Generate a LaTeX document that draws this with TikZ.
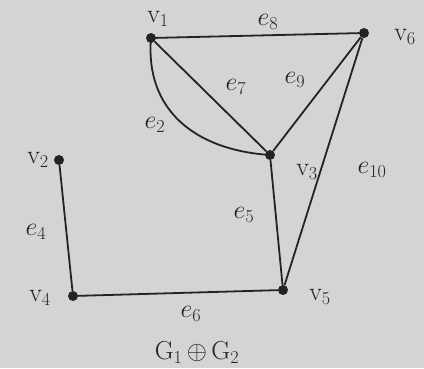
\RequirePackage{fix-cm}
\documentclass[tikz,border=0pt]{standalone}
\usepackage{fontspec}
\usepackage{amssymb}
\begin{document}
\begin{tikzpicture}[x=1pt,y=-1pt,
  vtx/.style={circle,fill=ink,inner sep=0pt,minimum size=10pt},
  edge/.style={draw=ink,line width=1.8pt},
  lbl/.style={text=ink,font=\fontsize{26}{30}\selectfont,inner sep=0pt}]
\definecolor{ink}{RGB}{35,35,35}
\definecolor{paper}{RGB}{212,212,210}
\fill[paper] (0,0) rectangle (424,368);
\useasboundingbox (0,0) rectangle (424,368);
\node[vtx] (v1) at (151,38) {};
\node[vtx] (v6) at (364,33) {};
\node[vtx] (v3) at (270,155) {};
\node[vtx] (v2) at (59,160) {};
\node[vtx] (v4) at (73,296) {};
\node[vtx] (v5) at (283,290) {};
\draw[edge] (v1) -- (v6);
\draw[edge] (v1) -- (v3);
\draw[edge] (v1.center) .. controls (145,110) and (195,150) .. (v3.center);
\draw[edge] (v6) -- (v3);
\draw[edge] (v6) -- (v5);
\draw[edge] (v3) -- (v5);
\draw[edge] (v2) -- (v4);
\draw[edge] (v4) -- (v5);
\node[lbl] (l1) at (158,19) {v$_1$};
\node[lbl] (l6) at (405,37) {v$_6$};
\node[lbl] (l3) at (307,172) {v$_3$};
\node[lbl] (l2) at (38,160) {v$_2$};
\node[lbl] (l4) at (40,298) {v$_4$};
\node[lbl] (l5) at (320,297) {v$_5$};
\node[lbl] (e8) at (268,22) {$e_8$};
\node[lbl] (e7) at (236,87) {$e_7$};
\node[lbl] (e9) at (295,80) {$e_9$};
\node[lbl] (e2) at (155,125) {$e_2$};
\node[lbl] (e10) at (372,170) {$e_{10}$};
\node[lbl] (e4) at (36,232) {$e_4$};
\node[lbl] (e5) at (244,215) {$e_5$};
\node[lbl] (e6) at (191,314) {$e_6$};
\node[lbl] (cap) at (197,352) {G$_1$\,$\oplus$\,G$_2$};
\end{tikzpicture}
\end{document}
